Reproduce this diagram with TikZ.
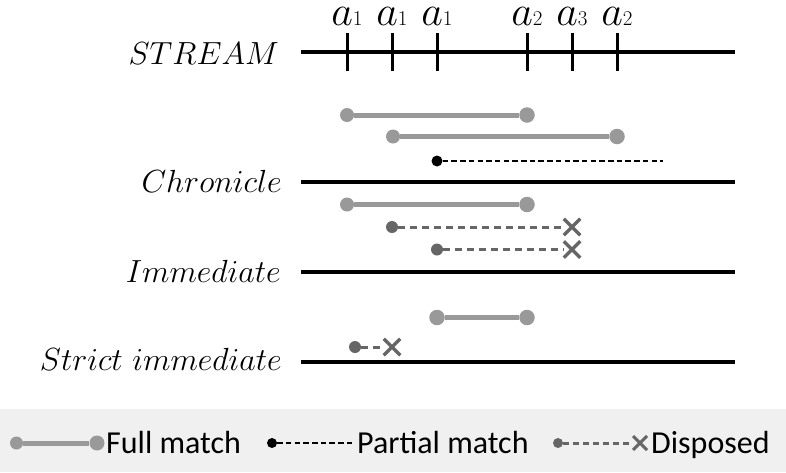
\RequirePackage{fix-cm}
\documentclass[tikz,border=0pt]{standalone}
\usepackage{fontspec}
\newfontfamily\legendfont{Carlito}
\usetikzlibrary{shapes.misc}

\begin{document}
\begin{tikzpicture}[x=1pt, y=-1pt,
            axis/.style={line width=3.3pt, black},
            tick/.style={line width=3pt, black},
            rowlabel/.style={anchor=base east, inner sep=0pt, font=\fontsize{32}{38}\selectfont},
            eventlabel/.style={anchor=base, inner sep=0pt, font=\fontsize{42}{50}\selectfont},
            fullline/.style={line width=5pt, black!40},
            fullstart/.style={circle, fill=black!40, inner sep=0pt, minimum size=14pt},
            fullend/.style={circle, fill=black!40, inner sep=0pt, minimum size=15.5pt},
            partline/.style={line width=2.3pt, black, dash pattern=on 5.5pt off 3.2pt},
            partdot/.style={circle, fill=black, inner sep=0pt, minimum size=11pt},
            displine/.style={line width=3pt, black!60, dash pattern=on 7pt off 5pt},
            dispdot/.style={circle, fill=black!60, inner sep=0pt, minimum size=12pt},
            dispend/.style={cross out, draw=black!60, line width=3.5pt, inner sep=0pt, minimum size=13pt},
            legendtext/.style={anchor=base west, inner sep=0pt, font=\legendfont\fontsize{32}{38}\selectfont}
        ]
        \useasboundingbox (0,0) rectangle (786,472);

        % Stream with events
        \node[rowlabel] (stream) at (279,64) {$STREAM$};
        \coordinate (sa) at (301,52);
        \coordinate (sb) at (735,52);
        \draw[axis] (sa) -- (sb);
        \foreach \x/\k [count=\i] in {347/1,392/1,437/1,527/2,572/3,617/2} {
            \coordinate (e\i) at (\x,52);
            \draw[tick] ([yshift=-19pt]e\i) -- ([yshift=19pt]e\i);
            \node[eventlabel] (l\i) at (\x,25) {$a{\scriptscriptstyle\k}$};
        }

        % Chronicle
        \node[fullstart] (c1a) at (347,115) {};
        \node[fullend] (c1b) at (527,115) {};
        \draw[fullline] (c1a) -- (c1b);
        \node[fullstart] (c2a) at (393,136.5) {};
        \node[fullend] (c2b) at (617,136.5) {};
        \draw[fullline] (c2a) -- (c2b);
        \node[partdot] (c3a) at (437,161) {};
        \coordinate (c3b) at (663,161);
        \draw[partline] (c3a) -- (c3b);
        \node[rowlabel] (chron) at (282,192) {$Chronicle$};
        \coordinate (ca) at (301,182);
        \coordinate (cb) at (735,182);
        \draw[axis] (ca) -- (cb);

        % Immediate
        \node[fullstart] (i1a) at (347,204.5) {};
        \node[fullend] (i1b) at (527,204.5) {};
        \draw[fullline] (i1a) -- (i1b);
        \node[dispdot] (i2a) at (392,227) {};
        \node[dispend] (i2b) at (572,227) {};
        \draw[displine] (i2a) -- (i2b);
        \node[dispdot] (i3a) at (437,249.5) {};
        \node[dispend] (i3b) at (572,249.5) {};
        \draw[displine] (i3a) -- (i3b);
        \node[rowlabel] (immed) at (281,282) {$Immediate$};
        \coordinate (ia) at (301,272);
        \coordinate (ib) at (735,272);
        \draw[axis] (ia) -- (ib);

        % Strict immediate
        \node[fullend] (t1a) at (437,317.5) {};
        \node[fullend] (t1b) at (527,317.5) {};
        \draw[fullline] (t1a) -- (t1b);
        \node[dispdot] (t2a) at (355,347) {};
        \node[dispend] (t2b) at (392,347) {};
        \draw[displine] (t2a) -- (t2b);
        \node[rowlabel] (strict) at (282,370) {$Strict\ immediate$};
        \coordinate (ta) at (301,362);
        \coordinate (tb) at (735,362);
        \draw[axis] (ta) -- (tb);

        % Legend
        \fill[gray!12] (0,409) rectangle (786,472);
        \node[fullstart, minimum size=13pt] (g1a) at (16.5,443) {};
        \node[fullend, minimum size=15pt] (g1b) at (97,443) {};
        \draw[fullline] (g1a) -- (g1b);
        \node[legendtext] (g1) at (106,453) {Full match};
        \node[partdot, minimum size=10pt] (g2a) at (272,443) {};
        \coordinate (g2b) at (355,443);
        \draw[partline] (g2a) -- (g2b);
        \node[legendtext] (g2) at (357,453) {Partial match};
        \node[dispdot, minimum size=10pt] (g3a) at (558,443) {};
        \node[dispend, minimum size=11pt, line width=3pt] (g3b) at (640,443) {};
        \draw[displine, dash pattern=on 6pt off 4pt] (g3a) -- (g3b);
        \node[legendtext] (g3) at (651,453) {Disposed};
\end{tikzpicture}
\end{document}
